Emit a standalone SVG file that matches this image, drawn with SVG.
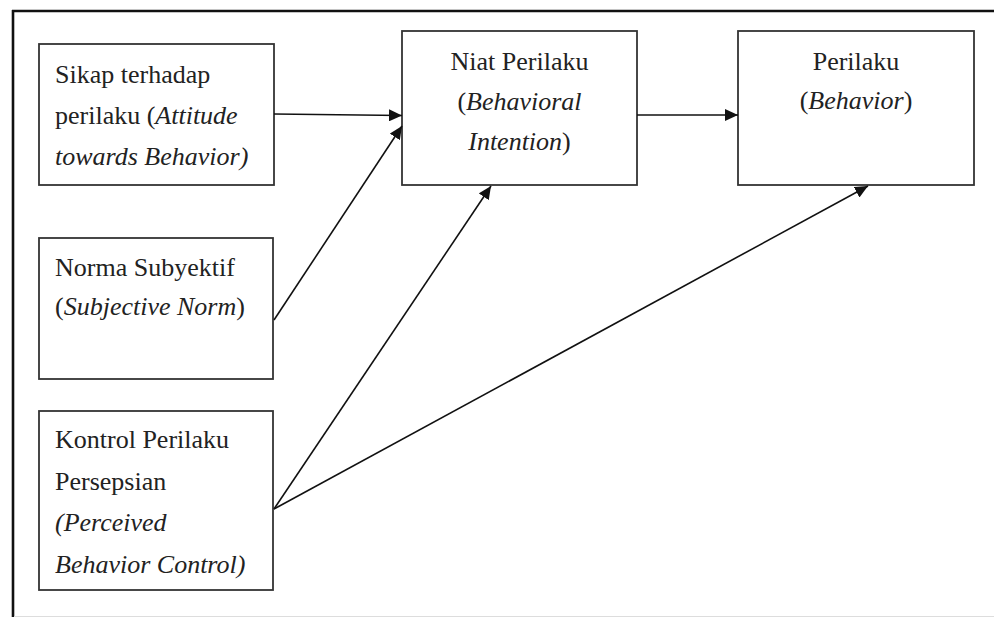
<svg xmlns="http://www.w3.org/2000/svg" width="994" height="617" viewBox="0 0 994 617">
<defs>
<style>
.box{fill:#fff;stroke:#333;stroke-width:1.8}
.t{font-family:"Liberation Serif","Times New Roman",serif;font-size:26px;fill:#222}
.i{font-style:italic}
.c{text-anchor:middle}
.ln{stroke:#111;stroke-width:1.6;fill:none;marker-end:url(#ah)}
</style>
<marker id="ah" markerUnits="userSpaceOnUse" markerWidth="14" markerHeight="12" refX="13" refY="6" orient="auto">
<path d="M0,0 L13,6 L0,12 z" fill="#111"/>
</marker>
</defs>
<rect width="994" height="617" fill="#fff"/>
<g id="frame">
<line x1="12" y1="11" x2="994" y2="11" stroke="#111" stroke-width="2.6"/>
<line x1="13" y1="10" x2="13" y2="617" stroke="#111" stroke-width="2.6"/>
<line x1="14" y1="616.5" x2="994" y2="616.5" stroke="#ddd" stroke-width="1"/>
</g>
<g id="attitude">
<rect class="box" x="39" y="44" width="235" height="141"/>
<text class="t" x="55" y="83">Sikap terhadap</text>
<text class="t" x="55" y="124">perilaku (<tspan class="i">Attitude</tspan></text>
<text class="t i" x="55" y="165">towards Behavior)</text>
</g>
<g id="norm">
<rect class="box" x="39" y="238" width="234" height="141"/>
<text class="t" x="55" y="276">Norma Subyektif</text>
<text class="t" x="55" y="315">(<tspan class="i">Subjective Norm</tspan>)</text>
</g>
<g id="control">
<rect class="box" x="39" y="411" width="234" height="179"/>
<text class="t" x="55" y="448">Kontrol Perilaku</text>
<text class="t" x="55" y="490">Persepsian</text>
<text class="t i" x="55" y="531">(Perceived</text>
<text class="t i" x="55" y="573">Behavior Control)</text>
</g>
<g id="intention">
<rect class="box" x="402" y="31" width="235" height="154"/>
<text class="t c" x="519.5" y="70">Niat Perilaku</text>
<text class="t c" x="519.5" y="110">(<tspan class="i">Behavioral</tspan></text>
<text class="t c" x="519.5" y="150"><tspan class="i">Intention</tspan>)</text>
</g>
<g id="behavior">
<rect class="box" x="738" y="31" width="236" height="154"/>
<text class="t c" x="856" y="70">Perilaku</text>
<text class="t c" x="856" y="109">(<tspan class="i">Behavior</tspan>)</text>
</g>
<g id="connectors">
<line class="ln" x1="274" y1="114" x2="402" y2="115.5"/>
<line class="ln" x1="274" y1="320" x2="402" y2="126"/>
<line class="ln" x1="274" y1="509" x2="491" y2="186"/>
<line class="ln" x1="274" y1="509" x2="868" y2="186"/>
<line class="ln" x1="637" y1="115" x2="738" y2="115"/>
</g>
</svg>
